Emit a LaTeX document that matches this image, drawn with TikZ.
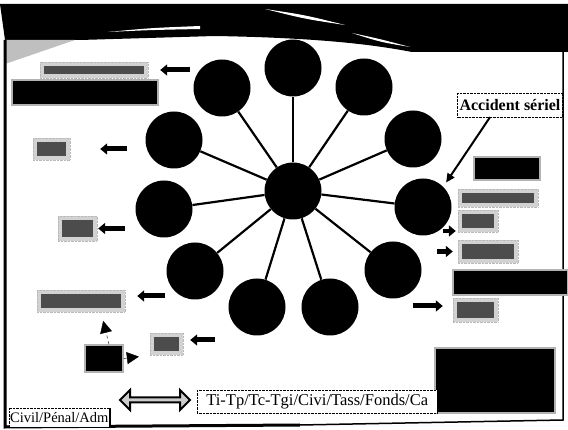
\documentclass[tikz,border=0pt]{standalone}
\usepackage{fontspec}
\setmainfont{Liberation Serif}
\usetikzlibrary{arrows.meta, shapes.arrows}

\begin{document}
\begin{tikzpicture}
  [x=1pt, y=-1pt,
   disc/.style={circle, fill=black, minimum size=57pt, inner sep=0pt},
   spoke/.style={line width=2.2pt},
   fat/.style={line width=5pt, -{Triangle[length=7pt, width=11pt]}},
   pointer/.style={line width=2pt, -{Triangle[length=9pt, width=8pt]}},
   dashlink/.style={dashed, thin, -{Triangle[length=12pt, width=12pt]}},
   greybox/.style={rectangle, draw=gray!55, densely dotted, fill=gray!35, inner sep=0pt,
     path picture={\fill[black!70] ([xshift=4pt,yshift=-4pt]path picture bounding box.north west)
       rectangle ([xshift=-4pt,yshift=4pt]path picture bounding box.south east);}},
   darkbox/.style={rectangle, fill=black, draw=gray!60, line width=1.5pt, inner sep=0pt},
   tagbox/.style={rectangle, draw, densely dotted, fill=white, inner sep=2pt,
     font=\fontsize{16.5}{18}\selectfont}]
  \useasboundingbox (0,0) rectangle (568,430);

  % title band
  \fill (0,4) -- (568,4) -- (568,52) -- (412,52)
    .. controls (380,46) and (330,38) .. (215,36) -- (80,40) -- (5,40) -- cycle;
  \fill[gray!50] (5,40) -- (75,40) -- (5,64) -- cycle;
  \fill[white] (108,32) .. controls (150,28) .. (200,26) -- (200,29)
    .. controls (150,30) .. (108,32);
  \fill[white] (265,9) .. controls (305,15) .. (345,25) .. controls (305,19) .. (265,9);
  \fill[white] (352,33) .. controls (380,39) .. (410,47) .. controls (380,42) .. (352,33);

  % frame
  \draw[line width=3pt] (5,40) -- (5,427) -- (300,425);
  \draw[line width=1.5pt] (300,425) -- (563,420) -- (563,52);

  % wheel
  \node[disc] (hub) at (293,191) {};
  \foreach \n/\x/\y in {1/293/68, 2/364/87, 3/413/139, 4/423/207, 5/393/270, 6/330/307,
                        7/257/307, 8/195/271, 9/164/209, 10/174/140, 11/222/88}{
    \node[disc] (c\n) at (\x,\y) {};
    \draw[spoke] (hub) -- (c\n);
  }

  % left column
  \node[greybox, minimum width=108pt, minimum height=16pt] (g1) at (94,70) {};
  \node[darkbox, minimum width=146pt, minimum height=25pt] (k1) at (85,92.5) {};
  \node[greybox, minimum width=37pt, minimum height=22pt] (g2) at (51.5,149) {};
  \node[greybox, minimum width=39pt, minimum height=25pt] (g3) at (77.5,228.5) {};
  \node[greybox, minimum width=88pt, minimum height=22pt] (g4) at (81,301) {};
  \node[greybox, minimum width=33pt, minimum height=22pt] (g5) at (166.5,344) {};
  \node[darkbox, minimum width=38pt, minimum height=27pt] (k2) at (104,358.5) {};

  \draw[fat] ([xshift=42pt]g1.east) -- ([xshift=12pt]g1.east);
  \draw[fat] ([xshift=57pt]g2.east) -- ([xshift=30pt]g2.east);
  \draw[fat] ([xshift=28pt]g3.east) -- ([xshift=1pt]g3.east);
  \draw[fat] ([xshift=40pt,yshift=5pt]g4.east) -- ([xshift=12pt,yshift=5pt]g4.east);
  \draw[fat] ([xshift=32pt,yshift=4pt]g5.east) -- ([xshift=7pt,yshift=4pt]g5.east);
  \draw[dashlink, shorten >=9pt] ([xshift=5pt]k2.north) -- ([xshift=20pt]g4.south);
  \draw[dashlink, shorten >=11pt] (k2.east) -- (g5.south west);

  % right column
  \node[tagbox, font=\fontsize{16}{18}\selectfont\bfseries, minimum width=104pt,
        minimum height=24pt] (acc) at (510,105) {Accident sériel};
  \node[darkbox, minimum width=66pt, minimum height=23pt] (k3) at (507,168.5) {};
  \node[greybox, minimum width=80pt, minimum height=18pt] (g6) at (498,198) {};
  \node[greybox, minimum width=40pt, minimum height=22pt] (g7) at (478,221) {};
  \node[greybox, minimum width=60pt, minimum height=23pt] (g8) at (488,251.5) {};
  \node[darkbox, minimum width=115pt, minimum height=25pt] (k4) at (510.5,282.5) {};
  \node[greybox, minimum width=45pt, minimum height=24pt] (g9) at (475.5,310) {};
  \node[darkbox, minimum width=120pt, minimum height=65pt] (k5) at (495,380.5) {};

  \draw[pointer, shorten >=5pt] ([xshift=-20pt]acc.south) -- (c4.north east);
  \draw[fat, line width=4pt] ([xshift=-15pt,yshift=-10pt]g7.west) -- ([xshift=-2pt,yshift=-10pt]g7.west);
  \draw[fat] ([xshift=-21pt]g8.west) -- ([xshift=-5pt]g8.west);
  \draw[fat] ([xshift=-40pt,yshift=4pt]g9.west) -- ([xshift=-10pt,yshift=4pt]g9.west);

  % bottom line
  \node[tagbox, anchor=south west, minimum height=19pt, inner sep=1pt,
        font=\fontsize{14.5}{16}\selectfont] (civil) at (9,427) {Civil/Pénal/Adm};
  \draw[line width=2pt] (civil.north east) -- (civil.south east);
  \node[tagbox, anchor=north west, minimum width=240pt, minimum height=23pt] (tiTp) at (197,390)
    {Ti-Tp/Tc-Tgi/Civi/Tass/Fonds/Ca};
  \node[double arrow, draw, line width=2pt, fill=gray!40, minimum height=70pt,
        minimum width=20pt, double arrow head extend=3pt, inner sep=0pt] (link) at (155,400) {};
\end{tikzpicture}
\end{document}
